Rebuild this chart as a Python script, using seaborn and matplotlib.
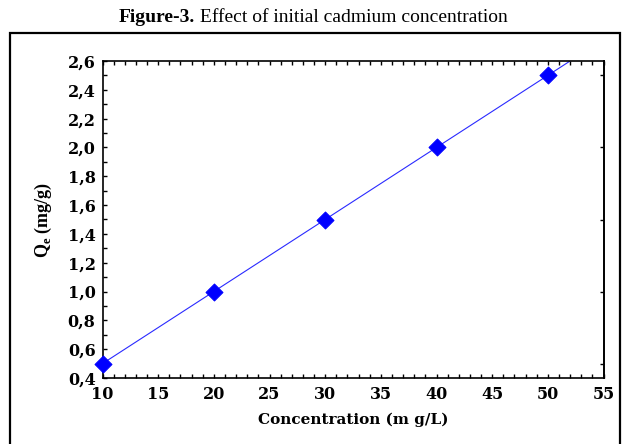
import numpy as np
import pandas as pd
import matplotlib
matplotlib.use("Agg")
import matplotlib.pyplot as plt
import seaborn as sns
from matplotlib.ticker import MultipleLocator, FuncFormatter
from matplotlib.patches import Rectangle

conc = [10, 20, 30, 40, 50]
qe = [0.5, 1.0, 1.5, 2.0, 2.5]
x_ticks = [10, 15, 20, 25, 30, 35, 40, 45, 50, 55]
y_ticks = [0.4, 0.6, 0.8, 1.0, 1.2, 1.4, 1.6, 1.8, 2.0, 2.2, 2.4, 2.6]

sns.set_theme(style="ticks")
plt.rcParams['font.family'] = ['Liberation Serif', 'DejaVu Serif']
plt.rcParams['mathtext.fontset'] = 'custom'
plt.rcParams['mathtext.rm'] = 'Liberation Serif'
plt.rcParams['mathtext.bf'] = 'Liberation Serif:bold'
for k in ['text.color', 'axes.labelcolor', 'xtick.color', 'ytick.color', 'axes.edgecolor']:
    plt.rcParams[k] = 'black'

fig = plt.figure(figsize=(6.26, 4.44), dpi=100)
ax = fig.add_axes([102.5/626, 1-378/444, (603.5-102.5)/626, (378-61)/444])

df = pd.DataFrame({"conc": conc, "qe": qe})
slope, intercept = np.polyfit(conc, qe, 1)
fit_x = np.array([conc[0], 55])
fit = pd.DataFrame({"x": fit_x, "y": slope*fit_x + intercept})
sns.lineplot(data=fit, x="x", y="y", ax=ax, color="#2a2aff", lw=0.8)
sns.scatterplot(data=df, x="conc", y="qe", ax=ax, marker="D", s=75,
                color="#0000ff", edgecolor="#0000ff", zorder=5, clip_on=False)

ax.set_xlim(10, 55)
ax.set_ylim(0.4, 2.6)
ax.set_xticks(x_ticks)
ax.set_yticks(y_ticks)
ax.xaxis.set_minor_locator(MultipleLocator(1))
ax.yaxis.set_minor_locator(MultipleLocator(0.1))
ax.yaxis.set_major_formatter(FuncFormatter(lambda v, p: f"{v:.1f}".replace(".", ",")))
ax.tick_params(which="both", direction="in", length=3, width=1, color="black",
               labelcolor="black", top=True, right=False, pad=5)
ax.tick_params(axis="x", which="both", top=True, pad=6)
for lab in ax.get_xticklabels() + ax.get_yticklabels():
    lab.set_fontweight("bold")
    lab.set_fontfamily("DejaVu Serif")
    lab.set_fontsize(11.5)
for s in ax.spines.values():
    s.set_color("black")
    s.set_linewidth(1.2)

sec = ax.secondary_yaxis("right")
sec.set_yticks([0.5, 1.0, 1.5, 2.0, 2.5])
sec.tick_params(direction="in", length=3, width=1, labelright=False, color="black")

ax.set_xlabel("Concentration (m g/L)", fontsize=11, fontweight="bold", labelpad=7,
              fontfamily="DejaVu Serif", color="black")
ax.set_ylabel(r"Q$_\mathbf{e}$ (mg/g)", fontsize=13, fontweight="bold", labelpad=10,
              color="black")

# Title: bold "Figure-3." followed by regular text
ty = 1 - 17/444
t1 = fig.text(0, ty, "Figure-3.", ha="left", va="center", fontsize=14,
              fontweight="bold", color="black")
t2 = fig.text(0, ty, " Effect of initial cadmium concentration", ha="left",
              va="center", fontsize=14, color="black")
r = fig.canvas.get_renderer()
w1 = t1.get_window_extent(r).width
w2 = t2.get_window_extent(r).width
W = fig.bbox.width
x0 = 313 - (w1 + w2) / 2
t1.set_x(x0 / W)
t2.set_x((x0 + w1) / W)

fig.patches.append(Rectangle((10/626, -0.05), (620-10)/626, 0.05+1-33/444,
                             transform=fig.transFigure, fill=False,
                             edgecolor="black", linewidth=1.6))

fig.savefig("out.png", dpi=100)
